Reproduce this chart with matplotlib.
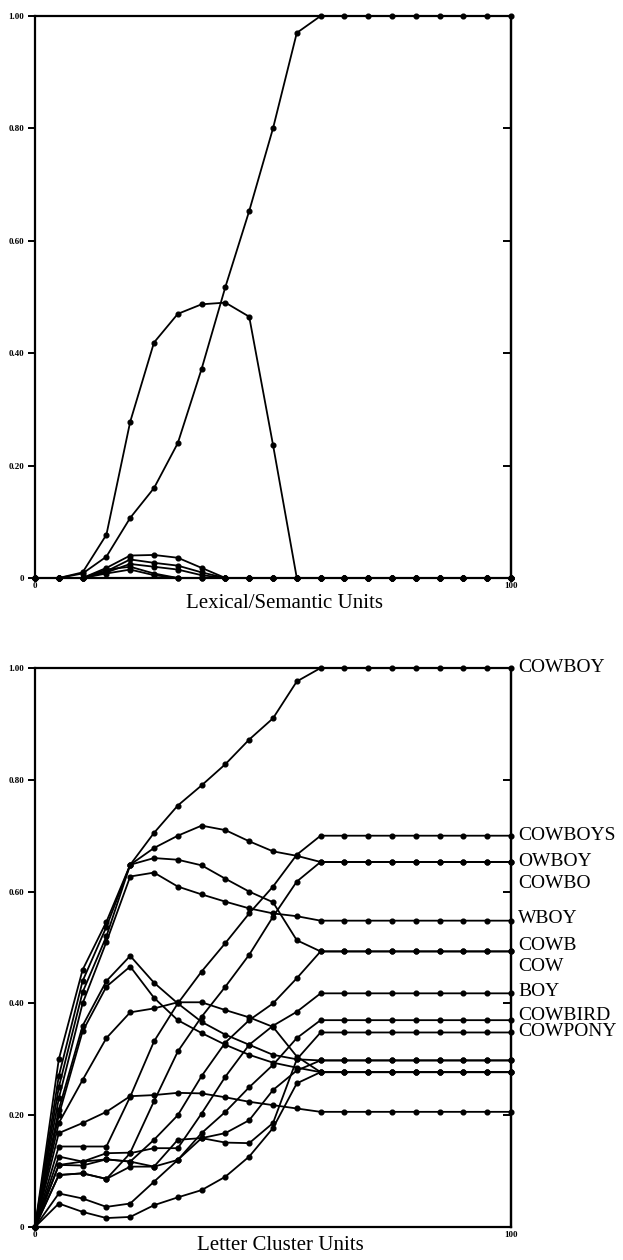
import matplotlib
matplotlib.use("Agg")
import matplotlib.pyplot as plt

# x positions of the units (every 5 units from 0 to 100)
units = [0, 5, 10, 15, 20, 25, 30, 35, 40, 45, 50, 55, 60, 65, 70, 75, 80, 85, 90, 95, 100]

# top panel: lexical/semantic units
lex_winner = [0, 0, .008, .038, .107, .16, .24, .372, .518, .653, .80, .97, 1, 1, 1, 1, 1, 1, 1, 1, 1]
lex_rival = [0, 0, .01, .077, .278, .419, .47, .487, .49, .465, .237, 0, 0, 0, 0, 0, 0, 0, 0, 0, 0]
lex_small_1 = [0, 0, 0, .018, .04, .041, .036, .018, 0, 0, 0, 0, 0, 0, 0, 0, 0, 0, 0, 0, 0]
lex_small_2 = [0, 0, 0, .012, .033, .027, .022, .01, 0, 0, 0, 0, 0, 0, 0, 0, 0, 0, 0, 0, 0]
lex_small_3 = [0, 0, 0, .01, .025, .02, .015, .005, 0, 0, 0, 0, 0, 0, 0, 0, 0, 0, 0, 0, 0]
lex_small_4 = [0, 0, 0, .015, .02, .008, 0, 0, 0, 0, 0, 0, 0, 0, 0, 0, 0, 0, 0, 0, 0]
lex_small_5 = [0, 0, 0, .008, .015, .005, 0, 0, 0, 0, 0, 0, 0, 0, 0, 0, 0, 0, 0, 0, 0]

# bottom panel: letter cluster units
lc_cowboy = [0, .30, .46, .546, .648, .705, .754, .79, .828, .872, .91, .976, 1, 1, 1, 1, 1, 1, 1, 1, 1]
lc_cowboys = [0, .144, .144, .144, .233, .332, .40, .457, .508, .561, .609, .666, .70, .70, .70, .70, .70, .70, .70, .70, .70]
lc_owboy = [0, .27, .44, .537, .648, .678, .70, .718, .71, .69, .672, .664, .653, .653, .653, .653, .653, .653, .653, .653, .653]
lc_cowbo = [0, .126, .117, .132, .133, .225, .314, .376, .43, .487, .555, .618, .653, .653, .653, .653, .653, .653, .653, .653, .653]
lc_wboy = [0, .23, .40, .51, .627, .634, .609, .595, .582, .57, .561, .556, .548, .548, .548, .548, .548, .548, .548, .548, .548]
lc_cowb = [0, .25, .42, .52, .648, .66, .657, .647, .623, .60, .581, .513, .493, .493, .493, .493, .493, .493, .493, .493, .493]
lc_cow = [0, .111, .11, .121, .117, .156, .20, .27, .33, .37, .40, .445, .493, .493, .493, .493, .493, .493, .493, .493, .493]
lc_boy = [0, .093, .096, .086, .132, .141, .141, .203, .269, .326, .36, .385, .418, .418, .418, .418, .418, .418, .418, .418, .418]
lc_cowbird = [0, .111, .117, .121, .117, .108, .12, .168, .206, .25, .29, .338, .37, .37, .37, .37, .37, .37, .37, .37, .37]
lc_cowpony = [0, .093, .096, .086, .108, .108, .156, .159, .151, .15, .186, .30, .348, .348, .348, .348, .348, .348, .348, .348, .348]
lc_other_1 = [0, .21, .36, .44, .485, .437, .40, .367, .344, .326, .308, .30, .298, .298, .298, .298, .298, .298, .298, .298, .298]
lc_other_2 = [0, .20, .35, .43, .466, .41, .37, .347, .326, .308, .294, .285, .277, .277, .277, .277, .277, .277, .277, .277, .277]
lc_other_3 = [0, .186, .263, .338, .384, .391, .402, .402, .388, .375, .358, .305, .277, .277, .277, .277, .277, .277, .277, .277, .277]
lc_other_4 = [0, .168, .186, .206, .234, .236, .24, .239, .232, .224, .218, .212, .206, .206, .206, .206, .206, .206, .206, .206, .206]
lc_other_5 = [0, .042, .027, .016, .018, .039, .053, .066, .09, .126, .177, .257, .277, .277, .277, .277, .277, .277, .277, .277, .277]
lc_other_6 = [0, .06, .051, .036, .042, .081, .12, .159, .168, .191, .245, .28, .298, .298, .298, .298, .298, .298, .298, .298, .298]

word_labels = ["COWBOY", "COWBOYS", "OWBOY", "COWBO", "WBOY", "COWB", "COW", "BOY", "COWBIRD", "COWPONY"]
word_label_y = [1.0, .701, .654, .615, .551, .504, .466, .421, .379, .349]

y_ticks = [0, .2, .4, .6, .8, 1.0]
y_tick_labels = ["0", "0.20", "0.40", "0.60", "0.80", "1.00"]
x_ticks = [0, 100]
x_tick_labels = ["0", "100"]

SERIF = ["Liberation Serif", "DejaVu Serif"]
W, H = 623, 1260


def style_axes(ax):
    ax.set_xlim(0, 100)
    ax.set_ylim(0, 1)
    for spine in ax.spines.values():
        spine.set_linewidth(1.6)
        spine.set_color("black")
    ax.set_yticks(y_ticks)
    ax.set_yticklabels(y_tick_labels, fontsize=6.5, fontweight="bold", family=SERIF)
    ax.set_xticks(x_ticks)
    ax.set_xticklabels(x_tick_labels, fontsize=6.5, fontweight="bold", family=SERIF)
    ax.tick_params(axis="y", direction="out", length=5, width=1.4, pad=3)
    ax.tick_params(axis="x", length=0, pad=3)
    right = ax.secondary_yaxis("right")
    right.set_yticks(y_ticks)
    right.tick_params(direction="in", length=6, width=1.4, labelright=False)
    right.spines["right"].set_linewidth(1.6)


def draw_series(ax, series):
    for values in series:
        ax.plot(units, values, color="black", linewidth=1.3, marker="o",
                markersize=3.4, clip_on=False, zorder=3)


fig = plt.figure(figsize=(W / 100, H / 100), dpi=100)

ax_top = fig.add_axes([35 / W, 1 - 578 / H, 476 / W, 562 / H])
style_axes(ax_top)
draw_series(ax_top, [lex_small_5, lex_small_4, lex_small_3, lex_small_2, lex_small_1,
                     lex_rival, lex_winner])
fig.text(285 / W, 1 - 603 / H, "Lexical/Semantic Units", ha="center", va="center",
         fontsize=15, family=SERIF)

ax_bot = fig.add_axes([35 / W, 1 - 1227 / H, 476 / W, 559 / H])
style_axes(ax_bot)
draw_series(ax_bot, [lc_other_6, lc_other_5, lc_other_4, lc_other_3, lc_other_2, lc_other_1,
                     lc_cowpony, lc_cowbird, lc_boy, lc_cow, lc_cowb, lc_wboy, lc_cowbo,
                     lc_owboy, lc_cowboys, lc_cowboy])
for word, y in zip(word_labels, word_label_y):
    ax_bot.text(101.5, y, word, ha="left", va="center", fontsize=14, family=SERIF,
                clip_on=False)
fig.text(280 / W, 1 - 1245 / H, "Letter Cluster Units", ha="center", va="center",
         fontsize=15, family=SERIF)

fig.savefig("out.png", dpi=100)
